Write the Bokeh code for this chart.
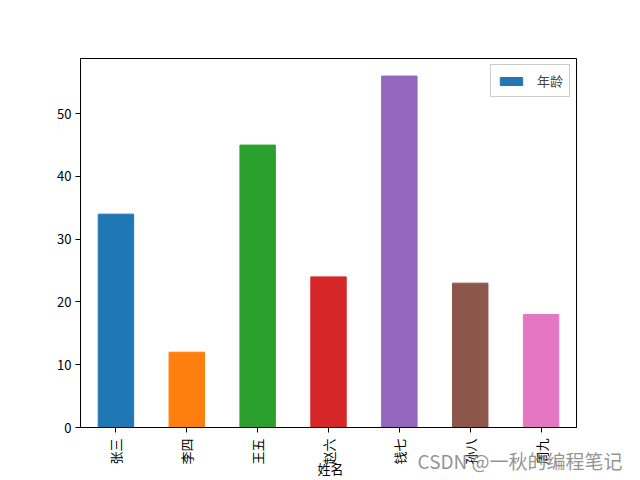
import math
from bokeh.plotting import figure
from bokeh.models import FactorRange, Range1d, Legend, LegendItem, Label, ColumnDataSource, FixedTicker
from bokeh.embed import file_html
from bokeh.resources import INLINE

names = ["张三", "李四", "王五", "赵六", "钱七", "孙八", "周九"]
ages = [34, 12, 45, 24, 56, 23, 18]
colors = ["#1f77b4", "#ff7f0e", "#2ca02c", "#d62728", "#9467bd", "#8c564b", "#e377c2"]
y_ticks = [0, 10, 20, 30, 40, 50]
x_title = "姓名"
legend_label = "年龄"
watermark = "CSDN @一秋的编程笔记"

FONT = "Noto Sans CJK SC"

src = ColumnDataSource(dict(name=names, age=ages, color=colors))

p = figure(width=640, height=480, x_range=FactorRange(factors=names),
           y_range=Range1d(0, max(ages) * 1.05),
           output_backend="svg", toolbar_location=None,
           min_border_left=80, min_border_right=64, min_border_top=58, min_border_bottom=53)

r = p.vbar(x="name", top="age", width=0.5, color="color", source=src)

p.xgrid.visible = False
p.ygrid.visible = False
p.outline_line_color = "black"
p.outline_line_width = 1
p.outline_line_alpha = 1

for ax in (p.xaxis[0], p.yaxis[0]):
    ax.axis_line_color = "black"
    ax.major_tick_line_color = "black"
    ax.major_tick_out = 5
    ax.major_tick_in = 0
    ax.minor_tick_line_color = None
    ax.major_label_text_font = FONT
    ax.major_label_text_font_size = "13px"
    ax.major_label_text_color = "black"

p.yaxis.ticker = FixedTicker(ticks=y_ticks)
p.yaxis.major_label_standoff = 4
p.xaxis.major_label_orientation = math.pi / 2
p.xaxis.major_label_standoff = 6

legend = Legend(items=[LegendItem(label=legend_label, renderers=[r], index=0)],
                location="top_right", label_text_font=FONT, label_text_font_size="13px",
                border_line_color="#cccccc", border_line_alpha=1,
                glyph_width=28, glyph_height=10, padding=6, margin=6,
                label_standoff=12)
p.add_layout(legend)

# x-axis title, placed in the (otherwise empty) right border panel so that it
# does not shrink the plot frame
p.add_layout(Label(x=-246, y=-31, x_units="screen", y_units="screen",
                   text=x_title, text_font=FONT, text_font_size="13px",
                   text_align="center", text_baseline="top", text_color="black"), "right")

p.add_layout(Label(x=542, y=-402, x_units="screen", y_units="screen",
                   text=watermark, text_font=FONT, text_font_size="19px",
                   text_align="right", text_baseline="middle", text_color="#808080",
                   text_alpha=0.85), "above")

open("out.html", "w").write(file_html(p, INLINE))
